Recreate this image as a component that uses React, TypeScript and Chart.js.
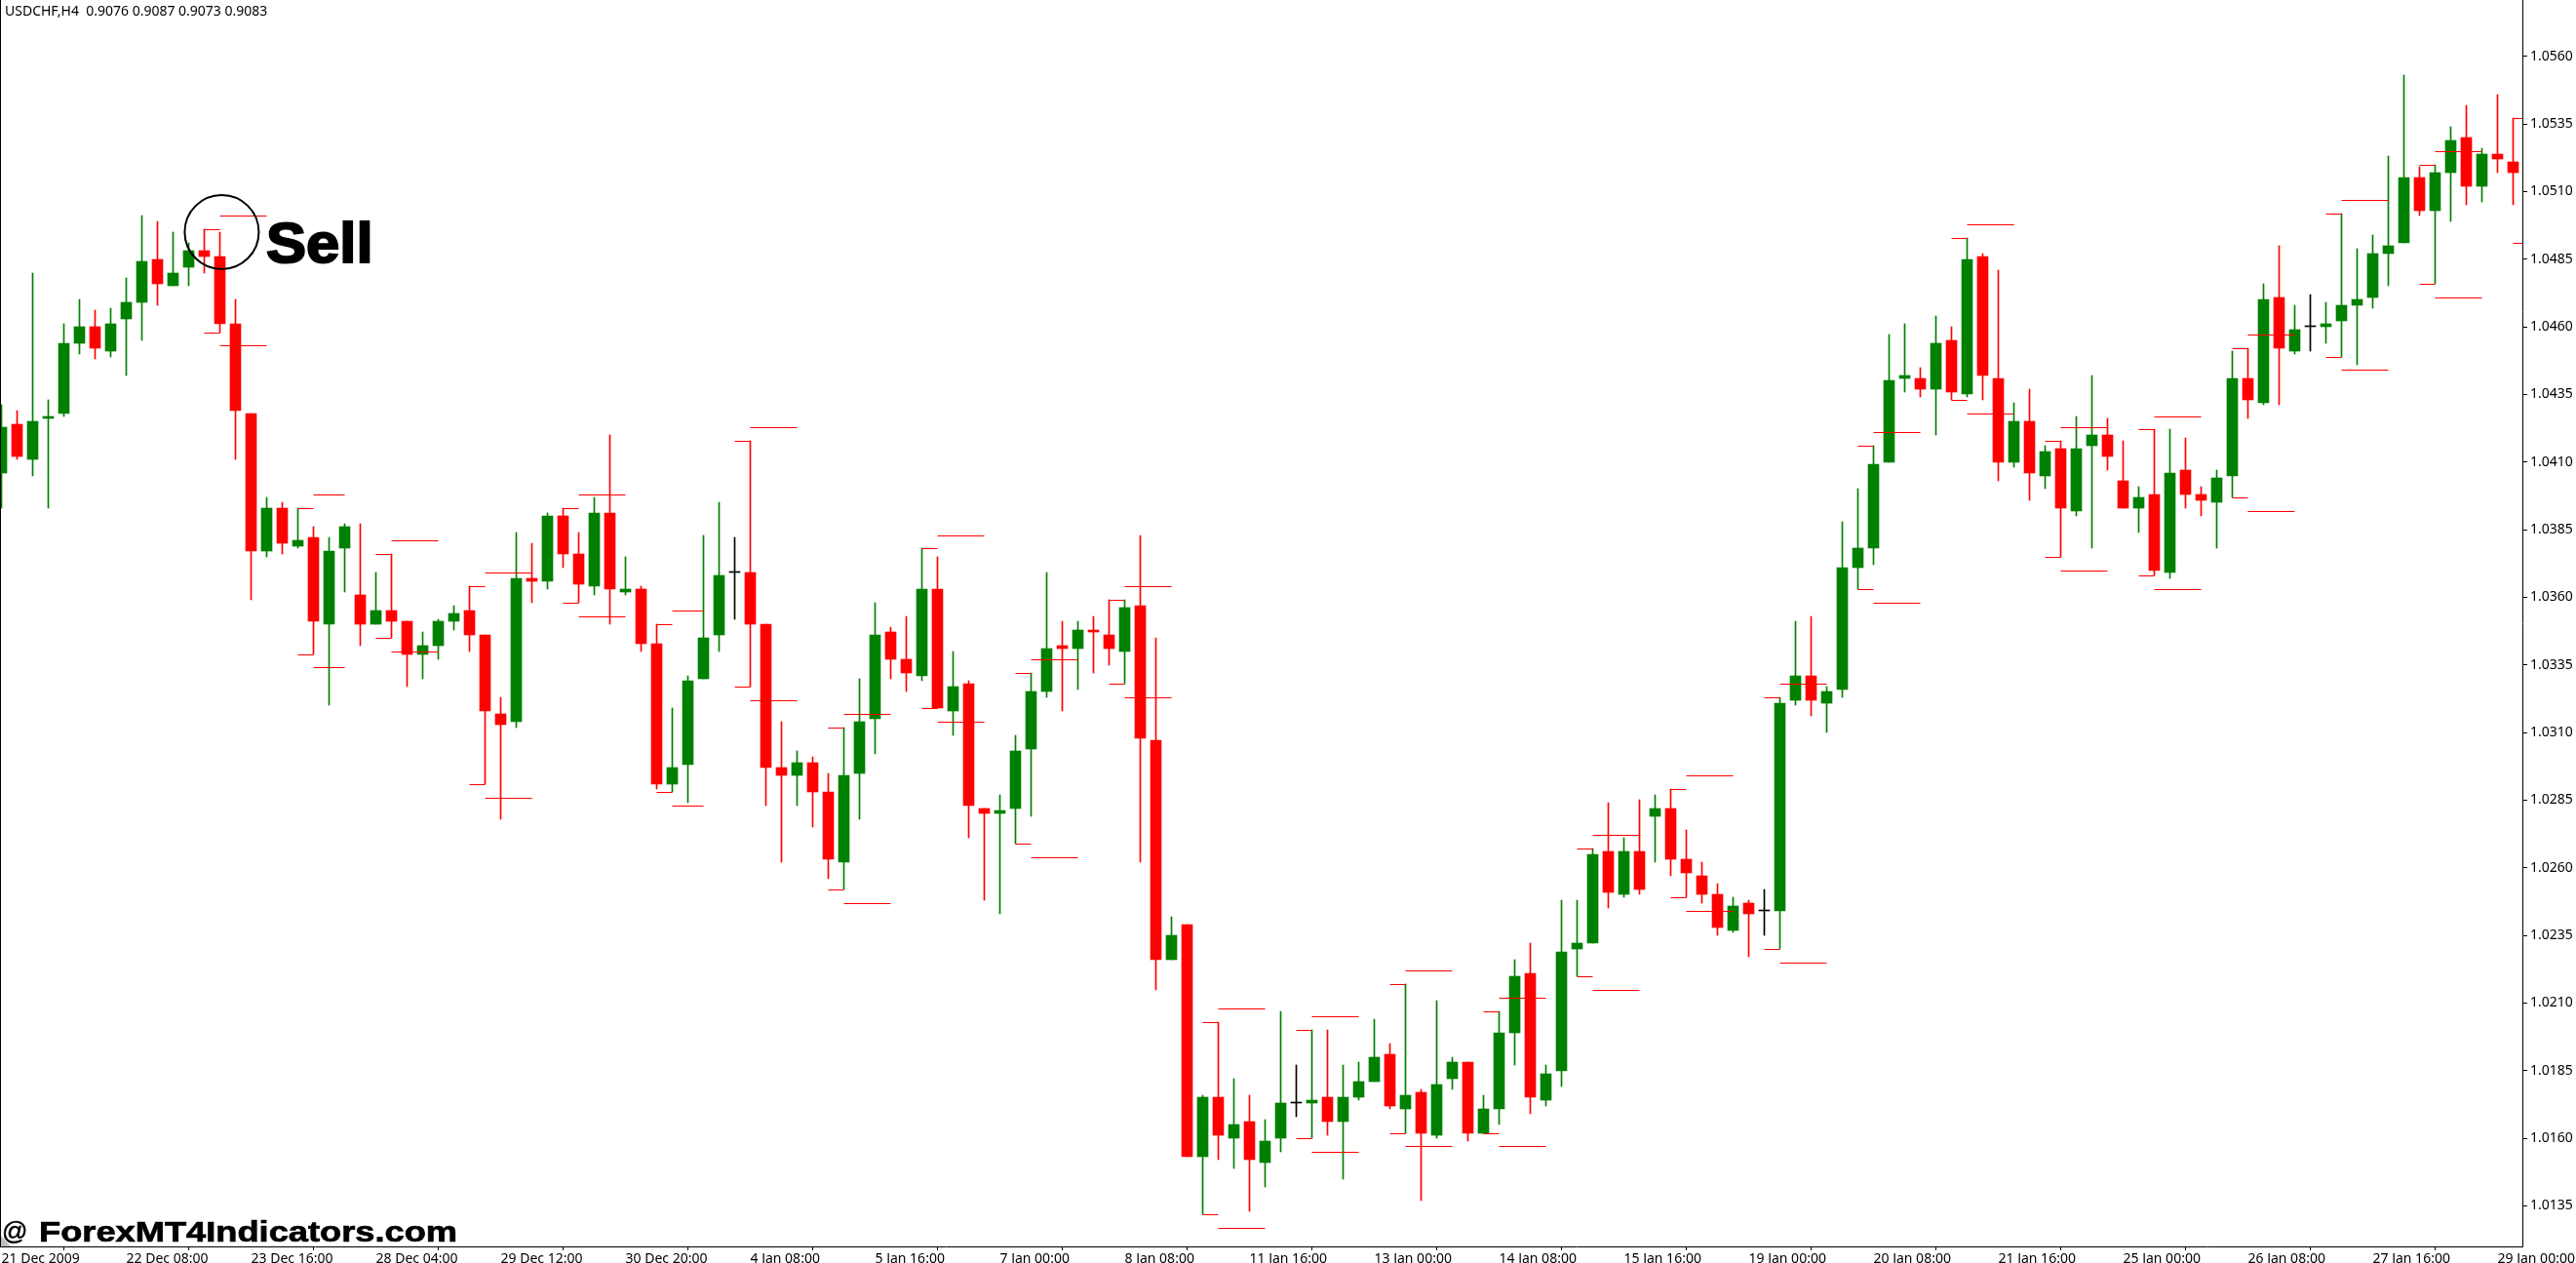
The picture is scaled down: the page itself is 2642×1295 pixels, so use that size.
import { useEffect, useRef } from 'react';
import { Chart, registerables } from 'chart.js';

Chart.register(...registerables);

// USDCHF H4 candles, left to right
const openPrices = [
  1.0406, 1.0424, 1.0411, 1.0426, 1.0428, 1.0454, 1.0460, 1.0451, 1.0463, 1.0469, 1.0485, 1.0475, 1.0482, 1.0488, 1.0486, 1.0461, 1.0428, 1.0377, 1.0393, 1.0379,
  1.0382, 1.0350, 1.0378, 1.0361, 1.0350, 1.0355, 1.0351, 1.0339, 1.0342, 1.0351, 1.0355, 1.0346, 1.0317, 1.0314, 1.0367, 1.0366, 1.0390, 1.0376, 1.0364, 1.0391,
  1.0362, 1.0363, 1.0343, 1.0291, 1.0298, 1.0330, 1.0346, 1.0369, 1.0369, 1.0350, 1.0297, 1.0294, 1.0299, 1.0288, 1.0262, 1.0295, 1.0315, 1.0347, 1.0337, 1.0331,
  1.0363, 1.0318, 1.0328, 1.0282, 1.0280, 1.0282, 1.0304, 1.0325, 1.0342, 1.0341, 1.0348, 1.0346, 1.0340, 1.0357, 1.0307, 1.0226, 1.0239, 1.0153, 1.0175, 1.0160,
  1.0166, 1.0151, 1.0160, 1.0173, 1.0173, 1.0175, 1.0166, 1.0175, 1.0181, 1.0191, 1.0171, 1.0177, 1.0161, 1.0182, 1.0188, 1.0162, 1.0171, 1.0199, 1.0221, 1.0174,
  1.0185, 1.0230, 1.0232, 1.0266, 1.0250, 1.0266, 1.0279, 1.0282, 1.0263, 1.0257, 1.0250, 1.0237, 1.0247, 1.0244, 1.0244, 1.0322, 1.0331, 1.0321, 1.0326, 1.0371,
  1.0378, 1.0410, 1.0441, 1.0441, 1.0437, 1.0455, 1.0435, 1.0486, 1.0441, 1.0410, 1.0425, 1.0405, 1.0415, 1.0392, 1.0416, 1.0420, 1.0403, 1.0393, 1.0398, 1.0369,
  1.0407, 1.0398, 1.0395, 1.0405, 1.0441, 1.0432, 1.0471, 1.0451, 1.0460, 1.0460, 1.0462, 1.0468, 1.0471, 1.0487, 1.0491, 1.0515, 1.0503, 1.0517, 1.0530, 1.0512,
  1.0524, 1.0521,
];
const highPrices = [
  1.0431, 1.0429, 1.0480, 1.0433, 1.0461, 1.0470, 1.0466, 1.0467, 1.0478, 1.0501, 1.0499, 1.0495, 1.0491, 1.0496, 1.0495, 1.0470, 1.0428, 1.0397, 1.0395, 1.0393,
  1.0386, 1.0382, 1.0387, 1.0387, 1.0369, 1.0376, 1.0351, 1.0347, 1.0352, 1.0357, 1.0364, 1.0346, 1.0323, 1.0384, 1.0380, 1.0391, 1.0393, 1.0384, 1.0397, 1.0420,
  1.0375, 1.0364, 1.0350, 1.0319, 1.0331, 1.0383, 1.0395, 1.0382, 1.0418, 1.0350, 1.0314, 1.0303, 1.0301, 1.0295, 1.0312, 1.0330, 1.0358, 1.0349, 1.0353, 1.0378,
  1.0375, 1.0340, 1.0329, 1.0282, 1.0287, 1.0309, 1.0332, 1.0369, 1.0351, 1.0351, 1.0353, 1.0359, 1.0359, 1.0383, 1.0345, 1.0242, 1.0239, 1.0176, 1.0203, 1.0182,
  1.0176, 1.0167, 1.0207, 1.0187, 1.0200, 1.0200, 1.0187, 1.0188, 1.0204, 1.0195, 1.0217, 1.0178, 1.0211, 1.0190, 1.0188, 1.0176, 1.0207, 1.0226, 1.0232, 1.0187,
  1.0248, 1.0248, 1.0267, 1.0284, 1.0271, 1.0285, 1.0287, 1.0289, 1.0274, 1.0262, 1.0254, 1.0249, 1.0248, 1.0252, 1.0323, 1.0351, 1.0353, 1.0327, 1.0388, 1.0400,
  1.0416, 1.0457, 1.0461, 1.0445, 1.0464, 1.0460, 1.0493, 1.0487, 1.0481, 1.0432, 1.0437, 1.0416, 1.0418, 1.0427, 1.0442, 1.0426, 1.0418, 1.0401, 1.0422, 1.0422,
  1.0419, 1.0401, 1.0407, 1.0451, 1.0452, 1.0476, 1.0490, 1.0468, 1.0472, 1.0469, 1.0502, 1.0489, 1.0494, 1.0523, 1.0553, 1.0519, 1.0520, 1.0534, 1.0542, 1.0526,
  1.0546, 1.0537,
];
const lowPrices = [
  1.0393, 1.0411, 1.0405, 1.0393, 1.0427, 1.0450, 1.0448, 1.0449, 1.0442, 1.0455, 1.0468, 1.0475, 1.0475, 1.0480, 1.0458, 1.0411, 1.0359, 1.0375, 1.0376, 1.0378,
  1.0339, 1.0320, 1.0362, 1.0342, 1.0350, 1.0345, 1.0327, 1.0330, 1.0337, 1.0348, 1.0340, 1.0291, 1.0278, 1.0312, 1.0358, 1.0363, 1.0371, 1.0358, 1.0361, 1.0350,
  1.0361, 1.0340, 1.0289, 1.0288, 1.0284, 1.0330, 1.0340, 1.0352, 1.0327, 1.0283, 1.0262, 1.0283, 1.0275, 1.0256, 1.0252, 1.0278, 1.0302, 1.0330, 1.0325, 1.0329,
  1.0319, 1.0309, 1.0271, 1.0248, 1.0243, 1.0269, 1.0279, 1.0323, 1.0318, 1.0326, 1.0332, 1.0335, 1.0328, 1.0262, 1.0215, 1.0226, 1.0153, 1.0132, 1.0152, 1.0149,
  1.0133, 1.0142, 1.0155, 1.0168, 1.0160, 1.0161, 1.0145, 1.0174, 1.0181, 1.0171, 1.0162, 1.0137, 1.0160, 1.0178, 1.0159, 1.0162, 1.0165, 1.0187, 1.0169, 1.0172,
  1.0179, 1.0220, 1.0232, 1.0245, 1.0249, 1.0250, 1.0262, 1.0257, 1.0249, 1.0247, 1.0235, 1.0236, 1.0227, 1.0235, 1.0230, 1.0320, 1.0316, 1.0310, 1.0323, 1.0363,
  1.0372, 1.0410, 1.0436, 1.0434, 1.0420, 1.0433, 1.0434, 1.0433, 1.0403, 1.0408, 1.0396, 1.0400, 1.0375, 1.0390, 1.0378, 1.0407, 1.0393, 1.0384, 1.0368, 1.0367,
  1.0393, 1.0390, 1.0378, 1.0397, 1.0426, 1.0431, 1.0431, 1.0450, 1.0451, 1.0454, 1.0449, 1.0446, 1.0467, 1.0475, 1.0491, 1.0501, 1.0476, 1.0499, 1.0505, 1.0506,
  1.0517, 1.0505,
];
const closePrices = [
  1.0423, 1.0412, 1.0425, 1.0427, 1.0454, 1.0460, 1.0452, 1.0461, 1.0469, 1.0484, 1.0476, 1.0480, 1.0488, 1.0486, 1.0461, 1.0429, 1.0377, 1.0393, 1.0380, 1.0381,
  1.0351, 1.0377, 1.0386, 1.0350, 1.0355, 1.0351, 1.0339, 1.0342, 1.0351, 1.0354, 1.0346, 1.0318, 1.0313, 1.0367, 1.0366, 1.0390, 1.0376, 1.0365, 1.0391, 1.0363,
  1.0363, 1.0343, 1.0291, 1.0297, 1.0329, 1.0345, 1.0368, 1.0369, 1.0350, 1.0297, 1.0294, 1.0299, 1.0288, 1.0263, 1.0294, 1.0314, 1.0346, 1.0337, 1.0332, 1.0363,
  1.0319, 1.0327, 1.0283, 1.0280, 1.0281, 1.0303, 1.0325, 1.0341, 1.0341, 1.0348, 1.0347, 1.0341, 1.0356, 1.0308, 1.0226, 1.0235, 1.0153, 1.0175, 1.0161, 1.0165,
  1.0152, 1.0159, 1.0173, 1.0173, 1.0174, 1.0166, 1.0175, 1.0181, 1.0190, 1.0172, 1.0176, 1.0162, 1.0180, 1.0188, 1.0162, 1.0171, 1.0199, 1.0220, 1.0175, 1.0184,
  1.0229, 1.0232, 1.0265, 1.0251, 1.0266, 1.0252, 1.0282, 1.0263, 1.0258, 1.0250, 1.0238, 1.0246, 1.0243, 1.0244, 1.0321, 1.0331, 1.0322, 1.0325, 1.0371, 1.0378,
  1.0409, 1.0440, 1.0442, 1.0437, 1.0454, 1.0436, 1.0485, 1.0442, 1.0410, 1.0425, 1.0406, 1.0414, 1.0393, 1.0415, 1.0420, 1.0412, 1.0393, 1.0397, 1.0370, 1.0406,
  1.0398, 1.0396, 1.0404, 1.0441, 1.0433, 1.0470, 1.0452, 1.0459, 1.0460, 1.0461, 1.0468, 1.0470, 1.0487, 1.0490, 1.0515, 1.0503, 1.0517, 1.0529, 1.0512, 1.0524,
  1.0522, 1.0517,
];

// pivot levels: candle where each block starts, inner pair lasts one bar, outer pair runs on from there
const pivotStarts = [13, 19, 24, 30, 36, 42, 47, 53, 59, 65, 71, 77, 83, 89, 95, 101, 107, 113, 119, 125, 131, 137, 143, 149, 155, 161];
const innerHigh = [1.0496, 1.0393, 1.0376, 1.0364, 1.0393, 1.0350, 1.0418, 1.0312, 1.0378, 1.0332, 1.0359, 1.0203, 1.0200, 1.0217, 1.0207, 1.0267, 1.0289, 1.0323, 1.0416, 1.0493, 1.0418, 1.0422, 1.0452, 1.0502, 1.0520, 1.0537];
const innerLow = [1.0458, 1.0339, 1.0345, 1.0291, 1.0358, 1.0288, 1.0327, 1.0252, 1.0319, 1.0269, 1.0328, 1.0132, 1.0160, 1.0162, 1.0162, 1.0220, 1.0249, 1.0230, 1.0363, 1.0433, 1.0375, 1.0368, 1.0397, 1.0449, 1.0476, 1.0491];
const outerEnds = [17, 22, 28, 34, 40, 45, 51, 57, 63, 69, 75, 81, 87, 93, 99, 105, 111, 117, 123, 129, 135, 141, 147, 153, 159];
const outerHigh = [1.0501, 1.0398, 1.0381, 1.0369, 1.0398, 1.0355, 1.0423, 1.0317, 1.0383, 1.0337, 1.0364, 1.0208, 1.0205, 1.0222, 1.0212, 1.0272, 1.0294, 1.0328, 1.0421, 1.0498, 1.0423, 1.0427, 1.0457, 1.0507, 1.0525];
const outerLow = [1.0453, 1.0334, 1.0340, 1.0286, 1.0353, 1.0283, 1.0322, 1.0247, 1.0314, 1.0264, 1.0323, 1.0127, 1.0155, 1.0157, 1.0157, 1.0215, 1.0244, 1.0225, 1.0358, 1.0428, 1.0370, 1.0363, 1.0392, 1.0444, 1.0471];

const yTicks = [1.0135, 1.016, 1.0185, 1.021, 1.0235, 1.026, 1.0285, 1.031, 1.0335, 1.036, 1.0385, 1.041, 1.0435, 1.046, 1.0485, 1.051, 1.0535, 1.056];
const xTickLabels = [
  '21 Dec 2009', '22 Dec 08:00', '23 Dec 16:00', '28 Dec 04:00', '29 Dec 12:00', '30 Dec 20:00', '4 Jan 08:00',
  '5 Jan 16:00', '7 Jan 00:00', '8 Jan 08:00', '11 Jan 16:00', '13 Jan 00:00', '14 Jan 08:00', '15 Jan 16:00',
  '19 Jan 00:00', '20 Jan 08:00', '21 Jan 16:00', '25 Jan 00:00', '26 Jan 08:00', '27 Jan 16:00', '29 Jan 00:00',
];
const barsPerLabel = 8;

// the hand drawn circle around the sell bar
const sellMark = { x: 14.12, y: 1.0495 };

const UP = '#008000';
const DOWN = '#ff0000';
const FLAT = '#000000';
const FONT = '"Noto Sans", sans-serif';
const HEAVY_FONT = '"Liberation Sans", sans-serif';

const candleColors = closePrices.map((c, i) => (c > openPrices[i] ? UP : c < openPrices[i] ? DOWN : FLAT));

// one line dataset with gaps between the pieces
function segments(starts: number[], ends: number[], levels: number[]) {
  return levels.flatMap((y, i) => [
    { x: starts[i], y },
    { x: ends[i], y },
    { x: ends[i], y: NaN },
  ]);
}

// MT4 draws hard edges, so snap everything to whole pixels
const snapPlugin = {
  id: 'snap',
  afterDatasetsUpdate(chart: Chart) {
    chart.getSortedVisibleDatasetMetas().forEach((meta: any) => {
      meta.data.forEach((el: any) => {
        if (meta.type === 'bar') {
          el.y = Math.round(el.y);
          el.base = Math.round(el.base);
        } else if (meta.type === 'line' && meta.index !== 0) {
          el.y = Math.round(el.y) + 0.5;
        }
      });
    });
  },
};

export default function App() {
  const canvasRef = useRef<HTMLCanvasElement>(null);

  useEffect(() => {
    if (!canvasRef.current) return;
    const innerEnds = pivotStarts.map(s => s + 1);
    const outerStarts = innerEnds.slice(0, outerEnds.length);

    const chart = new Chart(canvasRef.current, {
      type: 'bar',
      data: {
        datasets: [
          {
            type: 'line',
            label: 'Sell',
            data: [sellMark],
            showLine: false,
            pointRadius: 38,
            pointBackgroundColor: 'rgba(0,0,0,0)',
            pointBorderColor: '#000000',
            pointBorderWidth: 2,
            order: 0,
          },
          {
            type: 'line',
            label: 'Inner pivots',
            data: [...segments(pivotStarts, innerEnds, innerHigh), ...segments(pivotStarts, innerEnds, innerLow)],
            borderColor: DOWN,
            borderWidth: 1,
            pointRadius: 0,
            spanGaps: false,
            order: 1,
          },
          {
            type: 'line',
            label: 'Outer pivots',
            data: [...segments(outerStarts, outerEnds, outerHigh), ...segments(outerStarts, outerEnds, outerLow)],
            borderColor: DOWN,
            borderWidth: 1,
            pointRadius: 0,
            spanGaps: false,
            order: 1,
          },
          {
            label: 'Body',
            data: openPrices.map((o, i) => ({ x: i, y: [o, closePrices[i]] })),
            backgroundColor: candleColors,
            barThickness: 11,
            minBarLength: 1,
            grouped: false,
            order: 2,
          },
          {
            label: 'Wick',
            data: lowPrices.map((l, i) => ({ x: i, y: [l, highPrices[i]] })),
            backgroundColor: candleColors,
            barThickness: 1,
            grouped: false,
            order: 3,
          },
        ],
      } as any,
      options: {
        responsive: false,
        animation: false,
        layout: { autoPadding: false },
        plugins: { legend: { display: false }, tooltip: { enabled: false } },
        scales: {
          x: {
            type: 'linear',
            offset: false,
            min: -0.09375,
            max: 161.59375,
            border: { color: '#000000', width: 1 },
            grid: { drawOnChartArea: false, drawTicks: true, tickLength: 4, color: '#000000' },
            afterBuildTicks: (scale: any) => {
              scale.ticks = xTickLabels.map((_, i) => ({ value: i * barsPerLabel }));
            },
            afterFit: (scale: any) => {
              scale.height = 17;
              scale.paddingLeft = 0;
              scale.paddingRight = 0;
            },
            ticks: {
              align: 'start',
              autoSkip: false,
              maxRotation: 0,
              minRotation: 0,
              padding: 1,
              color: '#000000',
              font: { family: FONT, size: 14 },
              callback: (value: any) => xTickLabels[value / barsPerLabel],
            },
          },
          y: {
            type: 'linear',
            position: 'right',
            min: 1.012,
            max: 1.05808,
            border: { color: '#000000', width: 1 },
            grid: { drawOnChartArea: false, drawTicks: true, tickLength: 5, color: '#000000' },
            afterBuildTicks: (scale: any) => {
              scale.ticks = yTicks.map(value => ({ value }));
            },
            afterFit: (scale: any) => {
              scale.width = 55;
              scale.paddingTop = 0;
              scale.paddingBottom = 0;
            },
            ticks: {
              padding: 3,
              color: '#000000',
              font: { family: FONT, size: 14 },
              callback: (value: any) => Number(value).toFixed(4),
            },
          },
        },
      } as any,
      plugins: [snapPlugin],
    });

    return () => chart.destroy();
  }, []);

  return (
    <div style={{ position: 'fixed', left: 0, top: 0, width: 2642, height: 1295, overflow: 'hidden', background: '#ffffff' }}>
      <canvas ref={canvasRef} width={2642} height={1295} style={{ display: 'block', width: 2642, height: 1295 }}></canvas>
      {/* left edge of the chart window and the small chart shift marker */}
      <div style={{ position: 'absolute', left: 0, top: 0, width: 1, height: 1279, background: '#000000' }}></div>
      <div style={{ position: 'absolute', left: 1, top: 1267, width: 10, height: 11, background: '#c0c0c0', clipPath: 'polygon(0 0, 0 100%, 100% 100%)' }}></div>
      <div style={{ position: 'absolute', left: 5, top: 1, fontFamily: FONT, fontSize: 14, lineHeight: '20px', whiteSpace: 'pre', color: '#000000' }}>
        USDCHF,H4  0.9076 0.9087 0.9073 0.9083
      </div>
      <div style={{ position: 'absolute', left: 273, top: 214, fontFamily: HEAVY_FONT, fontWeight: 700, fontSize: 57, lineHeight: '70px', color: '#000000', WebkitTextStroke: '2px #000000', transform: 'scaleX(1.08)', transformOrigin: 'left center' }}>
        Sell
      </div>
      <div style={{ position: 'absolute', left: 2, top: 1246, fontFamily: HEAVY_FONT, fontSize: 26, lineHeight: '32px', color: '#000000', WebkitTextStroke: '0.5px #000000' }}>
        @
      </div>
      <div style={{ position: 'absolute', left: 40, top: 1243, fontFamily: HEAVY_FONT, fontWeight: 700, fontSize: 29, lineHeight: '40px', whiteSpace: 'nowrap', color: '#000000', WebkitTextStroke: '0.7px #000000', transform: 'scaleX(1.25)', transformOrigin: 'left center' }}>
        ForexMT4Indicators.com
      </div>
    </div>
  );
}
